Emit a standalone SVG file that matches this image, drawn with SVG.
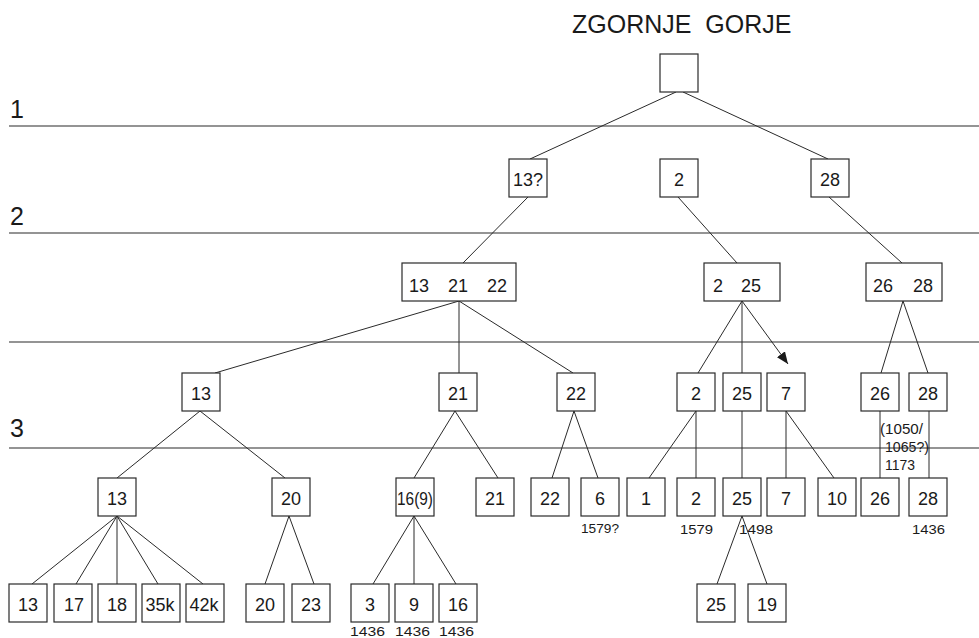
<svg xmlns="http://www.w3.org/2000/svg" width="979" height="638" viewBox="0 0 979 638">
<style>
.b{fill:#fff;stroke:#2a2a2a;stroke-width:1.2}
.t{font-family:"Liberation Sans",Arial,sans-serif;font-size:18px;fill:#1a1a1a;text-anchor:middle}
.ts{font-family:"Liberation Sans",Arial,sans-serif;font-size:18px;fill:#1a1a1a}
.d{font-family:"Liberation Sans",Arial,sans-serif;font-size:15.5px;fill:#1a1a1a}
.s{font-family:"Liberation Sans",Arial,sans-serif;font-size:12px;fill:#1a1a1a}
.c{stroke:#2a2a2a;stroke-width:1;fill:none}
.sep{stroke:#2a2a2a;stroke-width:1.2}
.big{font-family:"Liberation Sans",Arial,sans-serif;font-size:25px;fill:#1a1a1a}
</style>
<defs>
<marker id="arr" viewBox="0 0 12 10" refX="12" refY="5" markerWidth="12" markerHeight="10" markerUnits="userSpaceOnUse" orient="auto">
<path d="M0,0 L12,5 L0,10 Z" fill="#1a1a1a"/>
</marker>
</defs>
<rect width="979" height="638" fill="#fff"/>
<text class="big" x="572" y="33" xml:space="preserve">ZGORNJE  GORJE</text>
<g id="levels">
<line class="sep" x1="9" y1="126" x2="979" y2="126"/>
<line class="sep" x1="9" y1="233" x2="979" y2="233"/>
<line class="sep" x1="9" y1="342" x2="979" y2="342"/>
<line class="sep" x1="9" y1="448" x2="979" y2="448"/>
<text class="big" x="10" y="118">1</text>
<text class="big" x="10" y="225">2</text>
<text class="big" x="10" y="437">3</text>
</g>
<g id="connectors">
<line class="c" x1="676" y1="92" x2="530" y2="159"/>
<line class="c" x1="683" y1="92" x2="828" y2="159"/>
<line class="c" x1="528" y1="197" x2="463" y2="263"/>
<line class="c" x1="678" y1="197" x2="737" y2="263"/>
<line class="c" x1="829" y1="197" x2="902" y2="263"/>
<line class="c" x1="459" y1="301" x2="215" y2="373"/>
<line class="c" x1="459" y1="301" x2="459" y2="373"/>
<line class="c" x1="459" y1="301" x2="573" y2="373"/>
<line class="c" x1="742" y1="301" x2="698" y2="373"/>
<line class="c" x1="742" y1="301" x2="742" y2="373"/>
<line class="c" x1="742" y1="301" x2="788" y2="364" marker-end="url(#arr)"/>
<line class="c" x1="903" y1="301" x2="881" y2="373"/>
<line class="c" x1="903" y1="301" x2="928" y2="373"/>
<line class="c" x1="200" y1="411" x2="117" y2="478"/>
<line class="c" x1="200" y1="411" x2="285" y2="478"/>
<line class="c" x1="455" y1="411" x2="414" y2="478"/>
<line class="c" x1="455" y1="411" x2="498" y2="478"/>
<line class="c" x1="574" y1="411" x2="552" y2="478"/>
<line class="c" x1="574" y1="411" x2="598" y2="478"/>
<line class="c" x1="696" y1="411" x2="649" y2="478"/>
<line class="c" x1="696" y1="411" x2="696" y2="478"/>
<line class="c" x1="742" y1="411" x2="742" y2="478"/>
<line class="c" x1="786" y1="411" x2="786" y2="478"/>
<line class="c" x1="786" y1="411" x2="834" y2="478"/>
<line class="c" x1="880" y1="411" x2="880" y2="478"/>
<line class="c" x1="929" y1="411" x2="929" y2="478"/>
<line class="c" x1="117" y1="516" x2="32" y2="584"/>
<line class="c" x1="117" y1="516" x2="76" y2="584"/>
<line class="c" x1="117" y1="516" x2="117" y2="584"/>
<line class="c" x1="117" y1="516" x2="158" y2="584"/>
<line class="c" x1="117" y1="516" x2="203" y2="584"/>
<line class="c" x1="289" y1="516" x2="265" y2="584"/>
<line class="c" x1="289" y1="516" x2="314" y2="584"/>
<line class="c" x1="414" y1="516" x2="373" y2="584"/>
<line class="c" x1="414" y1="516" x2="414" y2="584"/>
<line class="c" x1="414" y1="516" x2="456" y2="584"/>
<line class="c" x1="742" y1="516" x2="717" y2="584"/>
<line class="c" x1="742" y1="516" x2="767" y2="584"/>
</g>
<g id="root"><rect class="b" x="660" y="54" width="38" height="38"/></g>
<g id="n13q"><rect class="b" x="509" y="159" width="38" height="38"/><text class="t" x="528" y="186">13?</text></g>
<g id="n2"><rect class="b" x="660" y="159" width="38" height="38"/><text class="t" x="679" y="186">2</text></g>
<g id="n28"><rect class="b" x="811" y="159" width="38" height="38"/><text class="t" x="830" y="186">28</text></g>
<g id="n13-21-22"><rect class="b" x="402" y="263" width="114" height="38"/><text class="ts" x="409" y="292">13</text><text class="ts" x="448" y="292">21</text><text class="ts" x="487" y="292">22</text></g>
<g id="n2-25"><rect class="b" x="704" y="263" width="76" height="38"/><text class="ts" x="713" y="292">2</text><text class="ts" x="741" y="292">25</text></g>
<g id="n26-28"><rect class="b" x="866" y="263" width="76" height="38"/><text class="ts" x="873" y="292">26</text><text class="ts" x="913" y="292">28</text></g>
<g id="l3-13"><rect class="b" x="182" y="373" width="38" height="38"/><text class="t" x="201" y="400">13</text></g>
<g id="l3-21"><rect class="b" x="439" y="373" width="38" height="38"/><text class="t" x="458" y="400">21</text></g>
<g id="l3-22"><rect class="b" x="557" y="373" width="38" height="38"/><text class="t" x="576" y="400">22</text></g>
<g id="l3-2"><rect class="b" x="677" y="373" width="38" height="38"/><text class="t" x="696" y="400">2</text></g>
<g id="l3-25"><rect class="b" x="723" y="373" width="38" height="38"/><text class="t" x="742" y="400">25</text></g>
<g id="l3-7"><rect class="b" x="767" y="373" width="38" height="38"/><text class="t" x="786" y="400">7</text></g>
<g id="l3-26"><rect class="b" x="861" y="373" width="38" height="38"/><text class="t" x="880" y="400">26</text></g>
<g id="l3-28"><rect class="b" x="909" y="373" width="38" height="38"/><text class="t" x="928" y="400">28</text></g>
<g id="l4-13"><rect class="b" x="98" y="478" width="38" height="38"/><text class="t" x="117" y="505">13</text></g>
<g id="l4-20"><rect class="b" x="272" y="478" width="38" height="38"/><text class="t" x="291" y="505">20</text></g>
<g id="l4-16-9"><rect class="b" x="396" y="478" width="38" height="38"/><text class="ts" x="397" y="505" textLength="36" lengthAdjust="spacingAndGlyphs">16(9)</text></g>
<g id="l4-21"><rect class="b" x="476" y="478" width="38" height="38"/><text class="t" x="495" y="505">21</text></g>
<g id="l4-22"><rect class="b" x="531" y="478" width="38" height="38"/><text class="t" x="550" y="505">22</text></g>
<g id="l4-6"><rect class="b" x="581" y="478" width="38" height="38"/><text class="t" x="600" y="505">6</text><text class="s" x="581" y="533" textLength="38" lengthAdjust="spacingAndGlyphs">1579?</text></g>
<g id="l4-1"><rect class="b" x="627" y="478" width="38" height="38"/><text class="t" x="646" y="505">1</text></g>
<g id="l4-2"><rect class="b" x="677" y="478" width="38" height="38"/><text class="t" x="696" y="505">2</text><text class="s" x="680" y="534" textLength="33" lengthAdjust="spacingAndGlyphs">1579</text></g>
<g id="l4-25"><rect class="b" x="723" y="478" width="38" height="38"/><text class="t" x="742" y="505">25</text><text class="s" x="739" y="534" textLength="34" lengthAdjust="spacingAndGlyphs">1498</text></g>
<g id="l4-7"><rect class="b" x="767" y="478" width="38" height="38"/><text class="t" x="786" y="505">7</text></g>
<g id="l4-10"><rect class="b" x="818" y="478" width="38" height="38"/><text class="t" x="837" y="505">10</text></g>
<g id="l4-26"><rect class="b" x="861" y="478" width="38" height="38"/><text class="t" x="880" y="505">26</text></g>
<g id="l4-28"><rect class="b" x="909" y="478" width="38" height="38"/><text class="t" x="928" y="505">28</text><text class="s" x="912" y="534" textLength="33" lengthAdjust="spacingAndGlyphs">1436</text></g>
<g id="date-26">
<text class="d" x="880" y="434" textLength="43" lengthAdjust="spacingAndGlyphs">(1050/</text>
<text class="d" x="885" y="452" textLength="44" lengthAdjust="spacingAndGlyphs">1065?)</text>
<text class="d" x="885" y="470" textLength="30" lengthAdjust="spacingAndGlyphs">1173</text>
</g>
<g id="l5-13"><rect class="b" x="9" y="584" width="38" height="38"/><text class="t" x="28" y="611">13</text></g>
<g id="l5-17"><rect class="b" x="54" y="584" width="38" height="38"/><text class="t" x="74" y="611">17</text></g>
<g id="l5-18"><rect class="b" x="98" y="584" width="38" height="38"/><text class="t" x="117" y="611">18</text></g>
<g id="l5-35k"><rect class="b" x="142" y="584" width="38" height="38"/><text class="t" x="160" y="611">35k</text></g>
<g id="l5-42k"><rect class="b" x="186" y="584" width="38" height="38"/><text class="t" x="204" y="611">42k</text></g>
<g id="l5-20"><rect class="b" x="246" y="584" width="38" height="38"/><text class="t" x="265" y="611">20</text></g>
<g id="l5-23"><rect class="b" x="292" y="584" width="38" height="38"/><text class="t" x="311" y="611">23</text></g>
<g id="l5-3"><rect class="b" x="351" y="584" width="38" height="38"/><text class="t" x="370" y="611">3</text><text class="s" x="350" y="636" textLength="35" lengthAdjust="spacingAndGlyphs">1436</text></g>
<g id="l5-9"><rect class="b" x="395" y="584" width="38" height="38"/><text class="t" x="414" y="611">9</text><text class="s" x="395" y="636" textLength="35" lengthAdjust="spacingAndGlyphs">1436</text></g>
<g id="l5-16"><rect class="b" x="439" y="584" width="38" height="38"/><text class="t" x="458" y="611">16</text><text class="s" x="439" y="636" textLength="35" lengthAdjust="spacingAndGlyphs">1436</text></g>
<g id="l5-25"><rect class="b" x="697" y="584" width="38" height="38"/><text class="t" x="716" y="611">25</text></g>
<g id="l5-19"><rect class="b" x="748" y="584" width="38" height="38"/><text class="t" x="767" y="611">19</text></g>
</svg>
